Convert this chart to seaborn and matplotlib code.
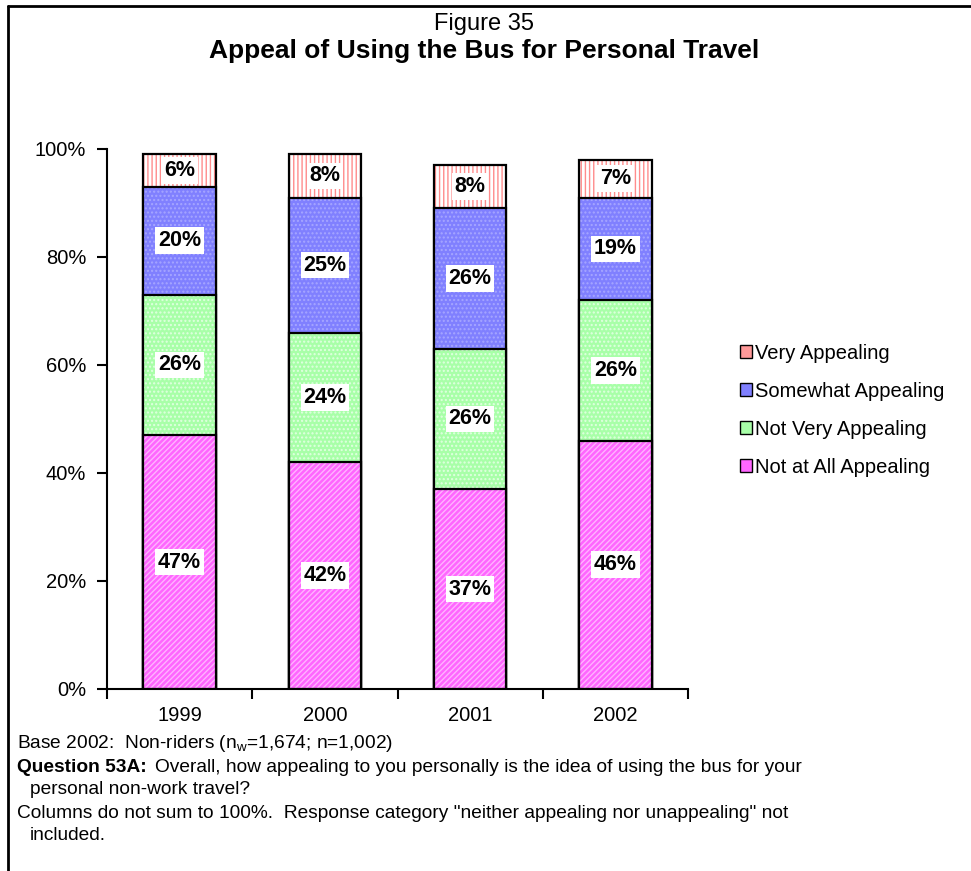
import numpy as np
import matplotlib
matplotlib.use("Agg")
import matplotlib.pyplot as plt
import seaborn as sns
from matplotlib.patches import Patch
from matplotlib.lines import Line2D

years = ["1999", "2000", "2001", "2002"]
not_at_all = [47, 42, 37, 46]
not_very = [26, 24, 26, 26]
somewhat = [20, 25, 26, 19]
very = [6, 8, 8, 7]

series_names = ["Not at All Appealing", "Not Very Appealing", "Somewhat Appealing", "Very Appealing"]
series_vals = [not_at_all, not_very, somewhat, very]
face_colors = ["#FF66FF", "#A8FFA8", "#8080FF", "#FFFFFF"]
hatch_colors = ["#FFB3FF", "#E0FFE0", "#A6A6FF", "#FF8C8C"]
hatches = ["//////", "....", "....", "||||"]

sns.set_theme(style="white")
plt.rcParams["font.family"] = ["Liberation Sans", "DejaVu Sans"]
plt.rcParams["hatch.linewidth"] = 1.0
plt.rcParams["text.color"] = "black"
plt.rcParams["xtick.color"] = "black"
plt.rcParams["ytick.color"] = "black"
plt.rcParams["xtick.labelcolor"] = "black"
plt.rcParams["ytick.labelcolor"] = "black"

fig = plt.figure(figsize=(9.71, 8.71), dpi=100)
ax = fig.add_axes([0.1102, 0.2090, 0.5984, 0.6200])

vals = np.array(series_vals) / 100.0
cum = np.cumsum(vals, axis=0)

# draw tallest first so shorter stacks sit on top
for i in range(len(series_names) - 1, -1, -1):
    n_before = len(ax.patches)
    sns.barplot(x=years, y=cum[i], color=face_colors[i], saturation=1, width=0.5,
                ax=ax, linewidth=0)
    for p in ax.patches[n_before:]:
        p.set_hatch(hatches[i])
        p.set_edgecolor(hatch_colors[i])
        p.set_linewidth(0)
    sns.barplot(x=years, y=cum[i], fill=False, width=0.5, ax=ax,
                edgecolor="black", linewidth=1.6)

# value labels
for i, s in enumerate(series_vals):
    for j, v in enumerate(s):
        mid = cum[i][j] - vals[i][j] / 2
        ax.text(j, mid, f"{v}%", ha="center", va="center", fontsize=15.5,
                fontweight="bold", color="black",
                bbox=dict(facecolor="white", edgecolor="none", pad=2))

ax.set_ylim(0, 1)
ax.set_xlim(-0.5, 3.5)
ax.set_yticks(np.arange(0, 1.01, 0.2))
ax.set_yticklabels([f"{int(t*100)}%" for t in np.arange(0, 1.01, 0.2)], fontsize=14.5)
ax.set_xticks([-0.5, 0.5, 1.5, 2.5, 3.5])
ax.set_xticklabels([])
ax.set_xticks(range(4), minor=True)
ax.set_xticklabels(years, minor=True, fontsize=14.5)
ax.tick_params(axis="x", which="major", direction="out", length=7, width=1.5, color="black", bottom=True)
ax.tick_params(axis="x", which="minor", length=0, pad=12, labelcolor="black")
ax.tick_params(axis="y", direction="out", length=7, width=1.5, color="black", left=True, pad=8,
               labelcolor="black")
ax.set_xlabel("")
ax.set_ylabel("")
sns.despine(ax=ax)
for side in ["left", "bottom"]:
    ax.spines[side].set_color("black")
    ax.spines[side].set_linewidth(1.5)

handles = [Patch(facecolor=face_colors[i] if i < 3 else "#FF9999",
                 edgecolor="black", linewidth=1.0, label=series_names[i])
           for i in range(3, -1, -1)]
fig.legend(handles=handles, loc="center left", bbox_to_anchor=(0.743, 0.529),
           frameon=False, fontsize=14.5, handlelength=0.6, handleheight=0.6,
           handletextpad=0.15, labelspacing=0.95, labelcolor="black")

fig.text(0.4985, 0.973, "Figure 35", ha="center", va="center", fontsize=17, color="black")
fig.text(0.4985, 0.942, "Appeal of Using the Bus for Personal Travel", ha="center",
         va="center", fontsize=19, fontweight="bold", color="black")

fs = 13.8
fig.text(0.0175, 0.146, r"Base 2002:  Non-riders (n$_\mathregular{w}$=1,674; n=1,002)",
         fontsize=fs, va="center")
qb = fig.text(0.0175, 0.119, "Question 53A:", fontsize=fs, fontweight="bold", va="center")
fig.add_artist(plt.Annotation(
    "Overall, how appealing to you personally is the idea of using the bus for your",
    xy=(1, 0), xycoords=qb, xytext=(6, 0), textcoords="offset points",
    fontsize=fs, va="bottom", ha="left", color="black"))
fig.text(0.031, 0.093, "personal non-work travel?", fontsize=fs, va="center")
fig.text(0.0175, 0.066,
         'Columns do not sum to 100%.  Response category "neither appealing nor unappealing" not',
         fontsize=fs, va="center")
fig.text(0.031, 0.041, "included.", fontsize=fs, va="center")

# outer frame (left and top edges)
fig.add_artist(Line2D([8 / 971, 8 / 971], [0, 1 - 6 / 871], transform=fig.transFigure,
                      color="black", linewidth=2))
fig.add_artist(Line2D([8 / 971, 1], [1 - 6 / 871, 1 - 6 / 871], transform=fig.transFigure,
                      color="black", linewidth=2))

fig.savefig("out.png", dpi=100)
